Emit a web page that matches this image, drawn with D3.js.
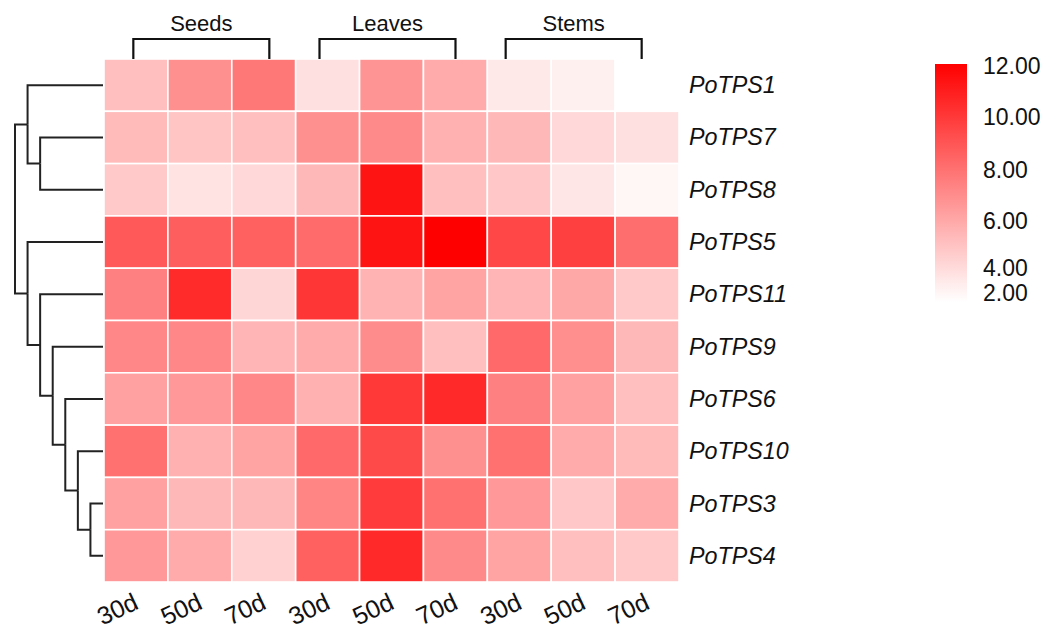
<!DOCTYPE html>
<html>
<head>
<meta charset="utf-8">
<script src="https://cdn.jsdelivr.net/npm/d3@7"></script>
<style>
  html, body { margin: 0; padding: 0; background: #fff; }
  svg { display: block; font-family: "Liberation Sans", Arial, sans-serif; }
</style>
</head>
<body>
<svg id="chart" width="1055" height="631"></svg>
<script>
// ---------- data ----------
const genes = ["PoTPS1","PoTPS7","PoTPS8","PoTPS5","PoTPS11","PoTPS9","PoTPS6","PoTPS10","PoTPS3","PoTPS4"];
const stages = ["30d","50d","70d","30d","50d","70d","30d","50d","70d"];
const tissues = ["Seeds","Leaves","Stems"];
const tissueSpan = [[0,2],[3,5],[6,8]];
// expression values per gene (rows) across the 9 columns
const PoTPS1  = [4.5, 6.35, 7.3, 3.2, 6.2, 5.3, 2.9, 2.6, 2.0];
const PoTPS7  = [4.7, 4.3, 4.5, 6.35, 6.6, 5.1, 4.8, 3.5, 3.2];
const PoTPS8  = [4.1, 3.1, 3.5, 4.8, 11.2, 4.5, 4.2, 3.0, 2.35];
const PoTPS5  = [8.5, 8.3, 8.2, 7.8, 11.2, 12.0, 9.2, 9.5, 7.7];
const PoTPS11 = [7.0, 10.3, 3.6, 9.9, 5.0, 5.6, 4.9, 5.4, 4.1];
const PoTPS9  = [6.7, 6.7, 4.9, 5.3, 6.5, 4.5, 7.9, 6.4, 4.8];
const PoTPS6  = [5.7, 6.0, 6.7, 5.1, 9.8, 10.4, 7.0, 5.7, 4.5];
const PoTPS10 = [7.6, 5.1, 5.6, 7.9, 9.1, 6.35, 7.6, 5.3, 4.7];
const PoTPS3  = [5.7, 4.8, 4.8, 6.8, 9.7, 7.6, 6.0, 4.2, 5.3];
const PoTPS4  = [6.0, 5.3, 3.8, 8.2, 10.4, 6.6, 5.6, 4.5, 4.1];
const values = [PoTPS1, PoTPS7, PoTPS8, PoTPS5, PoTPS11, PoTPS9, PoTPS6, PoTPS10, PoTPS3, PoTPS4];
// row dendrogram (height = merge level)
const tree = {h:7, children:[
  {h:6, children:[{name:"PoTPS1"}, {h:5, children:[{name:"PoTPS7"},{name:"PoTPS8"}]}]},
  {h:6, children:[{name:"PoTPS5"}, {h:5, children:[{name:"PoTPS11"}, {h:4, children:[{name:"PoTPS9"},
     {h:3, children:[{name:"PoTPS6"}, {h:2, children:[{name:"PoTPS10"}, {h:1, children:[{name:"PoTPS3"},{name:"PoTPS4"}]}]}]}]}]}]}
]};
const legendTicks = [12, 10, 8, 6, 4, 2];
const colorDomain = [2, 12];

// ---------- layout ----------
const svg = d3.select("#chart");
const hm = {x0: 104, x1: 679, y0: 59, y1: 582};
const x = d3.scaleBand().domain(d3.range(stages.length)).range([hm.x0, hm.x1]);
const y = d3.scaleBand().domain(genes).range([hm.y0, hm.y1]);
const color = d3.scaleLinear().domain(colorDomain).range(["#ffffff", "#ff0000"]).interpolate(d3.interpolateRgb).clamp(true);

// cells
const cells = [];
values.forEach((row, i) => row.forEach((v, j) => cells.push({g: genes[i], j, v})));
svg.append("g").selectAll("rect").data(cells).join("rect")
  .attr("x", d => x(d.j)).attr("y", d => y(d.g))
  .attr("width", x.bandwidth()).attr("height", y.bandwidth())
  .attr("fill", d => color(d.v))
  .attr("stroke", "#ffffff").attr("stroke-width", 1.6);

// row labels
svg.append("g").selectAll("text").data(genes).join("text")
  .attr("x", hm.x1 + 10).attr("y", d => y(d) + y.bandwidth() / 2 + 8)
  .attr("font-size", 23.3).attr("font-style", "italic").attr("fill", "#111")
  .text(d => d);

// column labels
svg.append("g").selectAll("text").data(stages).join("text")
  .attr("transform", (d, j) => `translate(${x(j) + x.bandwidth()/2 + 4},${hm.y1 + 26}) rotate(-25)`)
  .attr("text-anchor", "end").attr("font-size", 25).attr("fill", "#111")
  .text(d => d);

// tissue brackets
const bw = x.bandwidth();
const br = svg.append("g");
tissueSpan.forEach((s, i) => {
  const c = (x(s[0]) + x(s[1]) + bw) / 2 + 1.5 - 5.5 * i;
  const half = 68;
  br.append("path")
    .attr("d", `M${c - half},${hm.y0} V39 H${c + half} V${hm.y0}`)
    .attr("fill", "none").attr("stroke", "#111").attr("stroke-width", 2.2);
  br.append("text").attr("x", c).attr("y", 31).attr("text-anchor", "middle")
    .attr("font-size", 22).attr("fill", "#111").text(tissues[i]);
});

// dendrogram
const root = d3.hierarchy(tree);
const hx = d3.scaleLinear().domain([0, 7]).range([hm.x0 - 1, 15]);
root.eachAfter(n => {
  if (!n.children) { n.py = y(n.data.name) + y.bandwidth() / 2; n.px = hx(0); }
  else { n.py = (n.children[0].py + n.children[n.children.length - 1].py) / 2; n.px = hx(n.data.h); }
});
const links = root.links();
svg.append("g").selectAll("path").data(links).join("path")
  .attr("d", l => `M${l.source.px},${l.source.py} V${l.target.py} H${l.target.px}`)
  .attr("fill", "none").attr("stroke", "#222").attr("stroke-width", 2);

// legend
const lg = {x: 935, w: 32, y0: 64, y1: 302};
const defs = svg.append("defs");
const grad = defs.append("linearGradient").attr("id", "lgrad")
  .attr("x1", 0).attr("y1", 1).attr("x2", 0).attr("y2", 0);
d3.range(0, 1.0001, 0.1).forEach(t => {
  grad.append("stop").attr("offset", t).attr("stop-color", color(colorDomain[0] + t * (colorDomain[1] - colorDomain[0])));
});
svg.append("rect").attr("x", lg.x).attr("y", lg.y0).attr("width", lg.w).attr("height", lg.y1 - lg.y0)
  .attr("fill", "url(#lgrad)");
const ly = d3.scaleLinear().domain([2, 4, 6, 8, 10, 12]).range([293, 268, 221, 170, 117, 66]);
svg.append("g").selectAll("text").data(legendTicks).join("text")
  .attr("x", 983).attr("y", d => ly(d) + 8)
  .attr("font-size", 23).attr("fill", "#111")
  .text(d => d3.format(".2f")(d));
</script>
</body>
</html>
